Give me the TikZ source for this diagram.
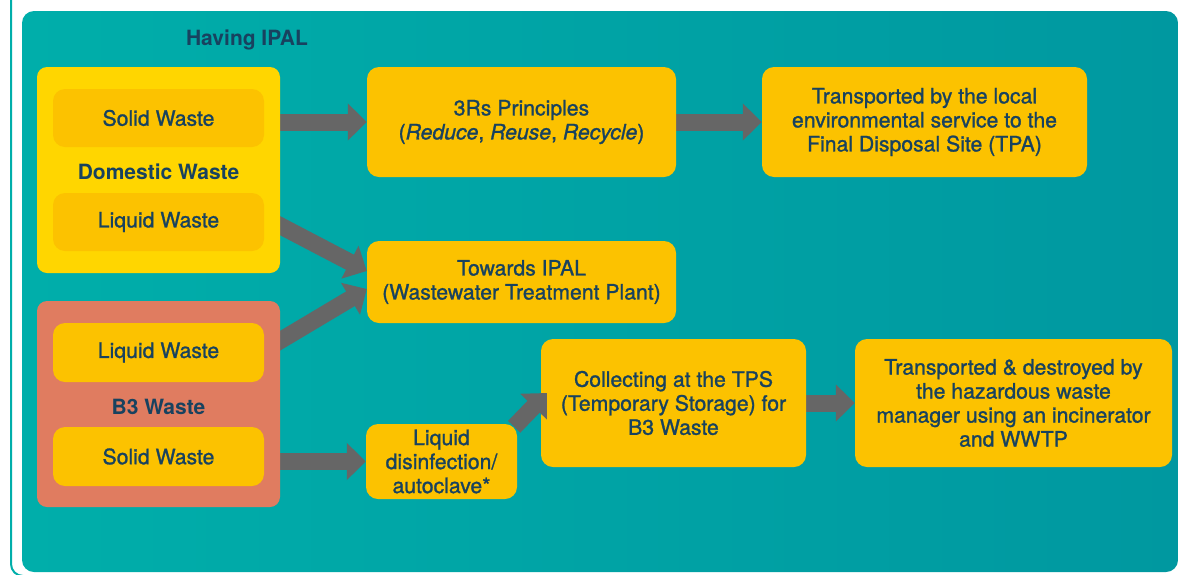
\documentclass[tikz,border=0pt]{standalone}
\usepackage{fontspec}
\setmainfont{TeX Gyre Heros}
\newfontfamily\medfont[FakeBold=1.2]{TeX Gyre Heros}
\usetikzlibrary{arrows.meta,calc,positioning}
\definecolor{panelL}{HTML}{00AEAA}
\definecolor{panelR}{HTML}{0098A0}
\definecolor{ink}{HTML}{18425F}
\definecolor{boxy}{HTML}{FCC200}
\definecolor{domy}{HTML}{FFD600}
\definecolor{hazred}{HTML}{E07C60}
\definecolor{flowgray}{HTML}{666666}
\pgfdeclarelayer{back}
\pgfdeclarelayer{mid}
\pgfsetlayers{back,mid,main}

\begin{document}
\begin{tikzpicture}[x=1pt,y=-1pt,
 group/.style={rectangle,rounded corners=10pt,inner sep=0pt,minimum width=243pt,minimum height=206pt},
 item/.style={rectangle,rounded corners=12pt,fill=boxy,inner sep=0pt,text=ink,align=center,
  font=\fontsize{21.2}{24}\selectfont\medfont},
 head/.style={text=ink,font=\fontsize{21}{24}\selectfont\bfseries},
 flow/.style={draw=flowgray,line width=17pt,-{Triangle[length=19pt,width=36pt]}}]
 \useasboundingbox (0,0) rectangle (1179,574);
 \begin{pgfonlayer}{back}
 \draw[panelL,line width=2pt,rounded corners=12pt] (11,-5) -- (11,576) -- (400,576);
 \shade[left color=panelL,right color=panelR,rounded corners=12pt] (22,11) rectangle (1178,572);
 \end{pgfonlayer}
 \node[head] (title) at (247,40) {Having IPAL};
 % source groups
 \node[group,fill=domy] (dom) at (158.5,170) {};
 \node[item,minimum width=211pt,minimum height=58pt] (domsol) at (158.5,118) {Solid Waste};
 \node[head] (domlab) at (158.5,172) {Domestic Waste};
 \node[item,minimum width=211pt,minimum height=58pt] (domliq) at (158.5,222) {Liquid Waste};
 \node[group,fill=hazred] (b3) at (158.5,404) {};
 \node[item,minimum width=211pt,minimum height=59pt] (b3liq) at (158.5,352.5) {Liquid Waste};
 \node[head] (b3lab) at (158.5,407) {B3 Waste};
 \node[item,minimum width=211pt,minimum height=59pt] (b3sol) at (158.5,456.5) {Solid Waste};
 % treatment steps
 \node[item,minimum width=309pt,minimum height=110pt] (rrr) at (521.5,122) {3Rs Principles\\(\textit{Reduce}, \textit{Reuse}, \textit{Recycle})};
 \node[item,minimum width=325pt,minimum height=110pt] (tpa) at (924.5,122) {Transported by the local\\environmental service to the\\Final Disposal Site (TPA)};
 \node[item,minimum width=309pt,minimum height=82pt] (ipal) at (521.5,282) {Towards IPAL\\(Wastewater Treatment Plant)};
 \node[item,minimum width=151pt,minimum height=75pt] (dis) at (441.5,461.5) {Liquid\\disinfection/\\autoclave*};
 \node[item,minimum width=265pt,minimum height=128pt] (tps) at (673.5,403) {Collecting at the TPS\\(Temporary Storage) for\\B3 Waste};
 \node[item,minimum width=317pt,minimum height=128pt] (inc) at (1013.5,403) {Transported \& destroyed by\\the hazardous waste\\manager using an incinerator\\and WWTP};
 \begin{pgfonlayer}{mid}
 \draw[flow] (dom.east |- rrr.west) -- (rrr.west);
 \draw[flow] (rrr.east) -- (tpa.west);
 \draw[flow] ($(domliq.east)+(7,-1)$) -- ($(ipal.west)+(0,-11)$);
 \draw[flow] ($(b3liq.east)+(7,-6.5)$) -- ($(ipal.west)+(0,7)$);
 \draw[flow] (b3.east |- dis.west) -- (dis.west);
 \draw[flow] (tps.east) -- (inc.west);
 \end{pgfonlayer}
 \draw[flow] ($(dis.north east)+(-3,3)$) -- ($(tps.west)+(6,-10)$);
\end{tikzpicture}
\end{document}
